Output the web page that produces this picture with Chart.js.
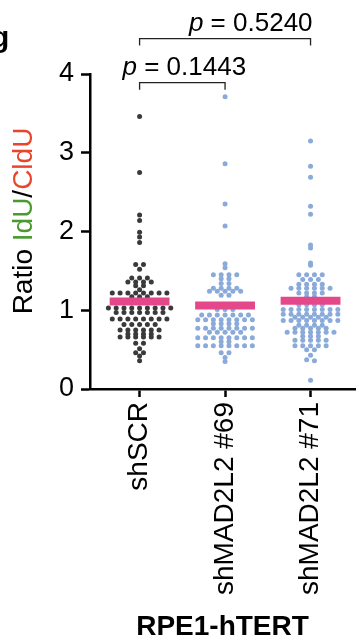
<!DOCTYPE html>
<html>
<head>
<meta charset="utf-8">
<script src="https://cdn.jsdelivr.net/npm/chart.js@4.4.1/dist/chart.umd.min.js"></script>
<style>
  html, body { margin: 0; padding: 0; background: #fff; }
  canvas { display: block; }
</style>
</head>
<body>
<canvas id="ratioChart" width="359" height="644"></canvas>
<script>
// Groups (x categories)
const groups = ['shSCR', 'shMAD2L2 #69', 'shMAD2L2 #71'];

// IdU/CldU ratios, one list per group
const shSCR = [
  3.46, 2.75, 2.21, 2.14, 1.99, 1.93, 1.86,
  1.58, 1.58, 1.52,
  1.41, 1.41, 1.41,
  1.36, 1.36, 1.36, 1.36,
  1.31, 1.31,
  1.26,
  1.22, 1.22, 1.22, 1.22, 1.22, 1.22, 1.22, 1.22,
  1.17, 1.17, 1.17,
  1.12, 1.12, 1.12,
  1.03, 1.03, 1.03, 1.03, 1.03, 1.03, 1.03, 1.03, 1.03,
  0.97, 0.97, 0.97, 0.97, 0.97, 0.97, 0.97,
  0.89, 0.89, 0.89, 0.89, 0.89, 0.89, 0.89, 0.89,
  0.82, 0.82, 0.82, 0.82, 0.82,
  0.75, 0.75, 0.75, 0.75, 0.75, 0.75,
  0.70, 0.70, 0.70, 0.70,
  0.66, 0.66, 0.66, 0.66, 0.66, 0.66,
  0.58, 0.58,
  0.51,
  0.46, 0.46,
  0.42,
  0.36
];
const sh69 = [
  3.71, 2.86, 2.35, 2.07,
  1.59, 1.54,
  1.45, 1.45, 1.45, 1.45,
  1.40, 1.40,
  1.34, 1.34,
  1.28, 1.28, 1.28, 1.28,
  1.24, 1.24, 1.24, 1.24, 1.24,
  1.19, 1.19,
  1.07, 1.07, 1.07,
  1.01, 1.01, 1.01,
  0.94, 0.94, 0.94, 0.94, 0.94, 0.94, 0.94,
  0.88, 0.88, 0.88, 0.88, 0.88, 0.88, 0.88, 0.88,
  0.83, 0.83, 0.83, 0.83,
  0.77, 0.77, 0.77, 0.77, 0.77, 0.77, 0.77, 0.77,
  0.72, 0.72, 0.72, 0.72, 0.72,
  0.65, 0.65, 0.65, 0.65, 0.65, 0.65, 0.65, 0.65,
  0.60, 0.60,
  0.55, 0.55, 0.55, 0.55, 0.55, 0.55, 0.55, 0.55,
  0.46, 0.46,
  0.40,
  0.35
];
const sh71 = [
  3.15, 2.83, 2.69, 2.32, 2.22, 1.83, 1.79,
  1.60, 1.57,
  1.45, 1.45, 1.45, 1.45,
  1.39, 1.39, 1.39,
  1.33, 1.33, 1.33, 1.33,
  1.28, 1.28, 1.28, 1.28, 1.28, 1.28,
  1.22, 1.22, 1.22, 1.22,
  1.17, 1.17,
  1.12, 1.12,
  1.07, 1.07, 1.07, 1.07,
  1.01, 1.01, 1.01, 1.01, 1.01, 1.01, 1.01, 1.01,
  0.95, 0.95, 0.95, 0.95, 0.95, 0.95, 0.95, 0.95,
  0.91, 0.91, 0.91, 0.91, 0.91,
  0.87, 0.87, 0.87, 0.87, 0.87, 0.87, 0.87, 0.87,
  0.81, 0.81, 0.81, 0.81,
  0.77, 0.77, 0.77, 0.77, 0.77,
  0.72, 0.72, 0.72, 0.72, 0.72, 0.72, 0.72,
  0.67, 0.67, 0.67,
  0.62, 0.62, 0.62, 0.62, 0.62,
  0.55, 0.55, 0.55, 0.55, 0.55,
  0.50, 0.50,
  0.43,
  0.37, 0.36,
  0.11
];
const groupValues = [shSCR, sh69, sh71];

// Mean line per group
const means = [1.11, 1.06, 1.12];

// Axis ticks and significance labels
const yTicks = [0, 1, 2, 3, 4];
const comparisons = [
  { from: 0, to: 1, p: '0.1443' },
  { from: 0, to: 2, p: '0.5240' }
];

const FONT = '"Liberation Sans", Arial, Helvetica, sans-serif';
const DOT_DARK = '#3a3a3a';
const DOT_BLUE = '#8aaad9';
const MEAN_PINK = '#e4488b';

// title, brackets and panel letter drawn on top
const annotations = {
  id: 'annotations',
  afterDraw(chart) {
    const { ctx, scales: { x, y } } = chart;
    ctx.save();

    // panel letter, partly cut by the left edge
    ctx.fillStyle = '#000';
    ctx.font = 'bold 30px ' + FONT;
    ctx.textBaseline = 'alphabetic';
    ctx.fillText('g', -9, 47);

    // y axis title with coloured parts
    const parts = [['Ratio ', '#000'], ['IdU', '#4a9b2f'], ['/', '#000'], ['CldU', '#e8452b']];
    ctx.save();
    ctx.font = '28px ' + FONT;
    ctx.translate(32, 221);
    ctx.rotate(-Math.PI / 2);
    let total = 0;
    parts.forEach(p => total += ctx.measureText(p[0]).width);
    let cx = -total / 2;
    parts.forEach(p => {
      ctx.fillStyle = p[1];
      ctx.fillText(p[0], cx, 0);
      cx += ctx.measureText(p[0]).width;
    });
    ctx.restore();

    // significance brackets
    const levels = [3.89, 4.45];
    comparisons.forEach((c, i) => {
      const x0 = x.getPixelForValue(c.from);
      const x1 = x.getPixelForValue(c.to);
      const top = y.getPixelForValue(levels[i]);
      ctx.strokeStyle = '#222';
      ctx.lineWidth = 1.3;
      ctx.beginPath();
      ctx.moveTo(x0, top + 7);
      ctx.lineTo(x0, top);
      ctx.lineTo(x1, top);
      ctx.lineTo(x1, top + 7);
      ctx.stroke();

      ctx.font = 'italic 26px ' + FONT;
      const wP = ctx.measureText('p').width;
      ctx.font = '26px ' + FONT;
      const rest = ' = ' + c.p;
      const wR = ctx.measureText(rest).width;
      const w = wP + wR;
      let start = i === 0 ? (x0 + x1) / 2 + 2 - w / 2 : x1 + 2 - w;
      const base = top - 8;
      ctx.fillStyle = '#000';
      ctx.font = 'italic 26px ' + FONT;
      ctx.fillText('p', start, base);
      ctx.font = '26px ' + FONT;
      ctx.fillText(rest, start + wP, base);
    });

    ctx.restore();
  }
};

const datasets = groupValues.map((vals, gi) => ({
  label: groups[gi],
  data: vals.map(v => ({ x: gi, y: v })),
  backgroundColor: gi === 0 ? DOT_DARK : DOT_BLUE,
  borderWidth: 0,
  pointRadius: 2.5,
  order: 2
}));
means.forEach((m, gi) => {
  datasets.push({
    type: 'line',
    label: 'mean ' + groups[gi],
    data: [{ x: gi - 0.35, y: m }, { x: gi + 0.35, y: m }],
    borderColor: MEAN_PINK,
    borderWidth: 8,
    borderCapStyle: 'butt',
    pointRadius: 0,
    order: 0
  });
});

const chart = new Chart(document.getElementById('ratioChart').getContext('2d'), {
  type: 'scatter',
  data: { datasets },
  options: {
    responsive: false,
    animation: false,
    layout: { padding: { top: 74, right: 1, left: 0, bottom: 0 } },
    plugins: { legend: { display: false }, tooltip: { enabled: false } },
    scales: {
      x: {
        type: 'linear',
        min: -0.58,
        max: 2.52,
        afterBuildTicks: s => { s.ticks = groups.map((g, i) => ({ value: i })); },
        afterFit: s => { s.height = 255; },
        ticks: {
          callback: v => groups[v],
          autoSkip: false,
          minRotation: 90,
          maxRotation: 90,
          padding: 5,
          color: '#000',
          font: { family: FONT, size: 28 }
        },
        grid: { drawOnChartArea: false, tickLength: 8, tickColor: '#000', tickWidth: 2.5 },
        border: { color: '#000', width: 2.5 },
        title: {
          display: true,
          text: 'RPE1-hTERT',
          color: '#000',
          padding: 0,
          font: { family: FONT, size: 28, weight: 'bold' }
        }
      },
      y: {
        min: 0,
        max: 4,
        afterBuildTicks: s => { s.ticks = yTicks.map(v => ({ value: v })); },
        afterFit: s => { s.width = 90; },
        ticks: { padding: 7, color: '#000', font: { family: FONT, size: 27 } },
        grid: { drawOnChartArea: false, tickLength: 9, tickColor: '#000', tickWidth: 2.5 },
        border: { color: '#000', width: 2.5 }
      }
    }
  },
  plugins: [annotations]
});

// spread points of the same row sideways, like a scatter dot plot
function layoutRows(chart) {
  const xs = chart.scales.x;
  const unit = xs.getPixelForValue(1) - xs.getPixelForValue(0);
  const step = 7.8 / unit;
  groupValues.forEach((vals, gi) => {
    const sorted = vals.slice().sort((a, b) => b - a);
    const pts = [];
    let row = [];
    const flush = () => {
      row.forEach((v, i) => pts.push({ x: gi + (i - (row.length - 1) / 2) * step, y: v }));
      row = [];
    };
    sorted.forEach(v => {
      if (row.length && Math.abs(row[0] - v) > 0.03) flush();
      row.push(v);
    });
    flush();
    chart.data.datasets[gi].data = pts;
  });
  chart.update('none');
}
layoutRows(chart);
</script>
</body>
</html>
